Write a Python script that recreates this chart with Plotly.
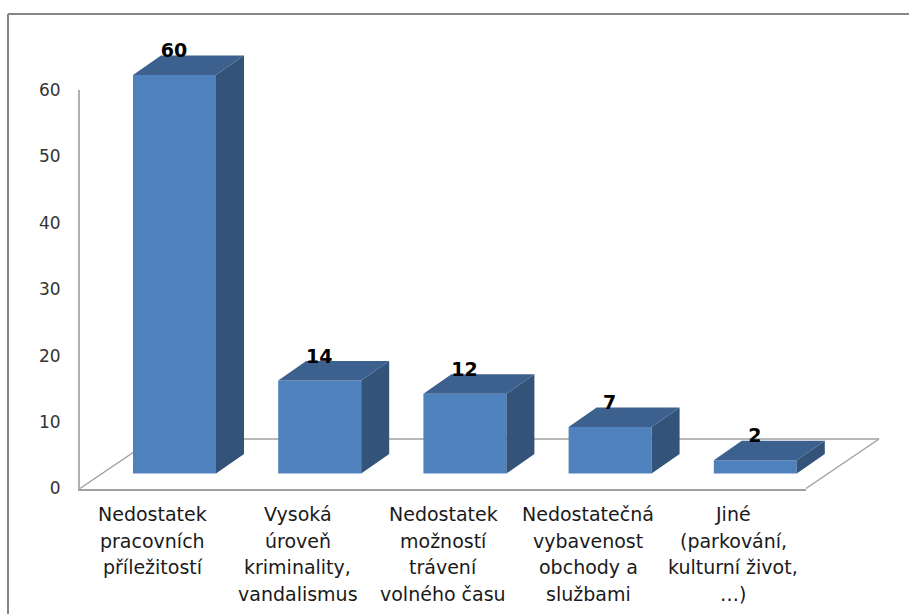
"""3D style column chart: reasons for moving away (Czech survey)"""

import plotly.graph_objects as go

WIDTH = 909
HEIGHT = 614

# data
category_lines = [
    ["Nedostatek", "pracovních", "příležitostí"],
    ["Vysoká", "úroveň", "kriminality,", "vandalismus"],
    ["Nedostatek", "možností", "trávení", "volného času"],
    ["Nedostatečná", "vybavenost", "obchody a", "službami"],
    ["Jiné", "(parkování,", "kulturní život,", "…)"],
]
values = [60, 14, 12, 7, 2]
y_ticks = [0, 10, 20, 30, 40, 50, 60]

# colours
FRONT = "#4f81bd"
TOP = "#3c618f"
SIDE = "#335378"
GRID = "#a0a0a0"
FRAME = "#868686"

# axis box in pixels, the bars sit a bit further back on the floor
LEFT, RIGHT = 80, 806
BOTTOM, TOP_Y = 488.5, 90
# bar axes run further up and right so the 3D faces are not clipped
BAR_RIGHT, BAR_TOP = 900, 30
UNIT_X = (RIGHT - LEFT) / len(values)
UNIT_Y = (BOTTOM - TOP_Y) / 60
SHIFT_X = 21.9 / UNIT_X
SHIFT_Y = 15 / UNIT_Y
BAR_WIDTH = 83 / UNIT_X
DEPTH_X = 28 / UNIT_X
DEPTH_Y = 19.5 / UNIT_Y
LABEL_GAP = 22.5 / UNIT_Y


def px(x):
    return x / WIDTH


def py(y):
    return 1 - y / HEIGHT


positions = list(range(len(values)))

side_x, side_y, top_x, top_y = [], [], [], []
for pos, val in zip(positions, values):
    x0 = pos - BAR_WIDTH / 2
    x1 = pos + BAR_WIDTH / 2
    side_x += [x1, x1 + DEPTH_X, x1 + DEPTH_X, x1, x1, None]
    side_y += [0, DEPTH_Y, val + DEPTH_Y, val, 0, None]
    top_x += [x0, x0 + DEPTH_X, x1 + DEPTH_X, x1, x0, None]
    top_y += [val, val + DEPTH_Y, val + DEPTH_Y, val, val, None]

fig = go.Figure()

fig.add_trace(
    go.Bar(
        x=positions,
        y=values,
        width=BAR_WIDTH,
        marker=dict(color=FRONT, line=dict(width=0)),
        xaxis="x2",
        yaxis="y2",
        hoverinfo="skip",
    )
)

for xs, ys, color in [(side_x, side_y, SIDE), (top_x, top_y, TOP)]:
    fig.add_trace(
        go.Scatter(
            x=xs,
            y=ys,
            mode="lines",
            fill="toself",
            fillcolor=color,
            line=dict(width=0, color=color),
            xaxis="x2",
            yaxis="y2",
            hoverinfo="skip",
        )
    )

# value labels above the bars
fig.add_trace(
    go.Scatter(
        x=[p - 0.5 / UNIT_X for p in positions],
        y=[v + LABEL_GAP for v in values],
        text=[str(v) for v in values],
        mode="text",
        textposition="middle center",
        textfont=dict(family="DejaVu Sans", size=19, color="#000000", weight="bold"),
        xaxis="x2",
        yaxis="y2",
        hoverinfo="skip",
    )
)

# empty trace so the tick axes get their own subplot
fig.add_trace(
    go.Scatter(x=positions, y=values, mode="none", hoverinfo="skip", showlegend=False)
)

# category labels, one annotation per line because of the wide line spacing
annotations = []
for pos, lines in zip(positions, category_lines):
    for i, line in enumerate(lines):
        annotations.append(
            dict(
                x=pos,
                xref="x",
                y=py(514 + i * 26.6),
                yref="paper",
                text=line,
                showarrow=False,
                xanchor="center",
                yanchor="middle",
                font=dict(family="DejaVu Sans", size=19, color="#1a1a1a"),
            )
        )


def line_shape(x0, y0, x1, y1, color=GRID, width=1.5):
    return dict(
        type="line",
        xref="paper",
        yref="paper",
        x0=px(x0),
        y0=py(y0),
        x1=px(x1),
        y1=py(y1),
        line=dict(color=color, width=width),
        layer="below",
    )


shapes = [
    # floor of the 3D box
    line_shape(80, 488.5, 153, 439),
    line_shape(153, 439, 879, 439),
    line_shape(879, 439, 806, 488.5),
    # chart frame, cut off at the right and bottom
    line_shape(8, 14, 8, 614, FRAME, 2),
    line_shape(8, 14, 909, 14, FRAME, 2),
]

x2_start = -0.5 - SHIFT_X
x2_end = x2_start + (BAR_RIGHT - LEFT) / UNIT_X
y2_start = -SHIFT_Y
y2_end = y2_start + (BOTTOM - BAR_TOP) / UNIT_Y

fig.update_layout(
    width=WIDTH,
    height=HEIGHT,
    margin=dict(l=0, r=0, t=0, b=0),
    paper_bgcolor="white",
    plot_bgcolor="rgba(0,0,0,0)",
    showlegend=False,
    shapes=shapes,
    annotations=annotations,
    xaxis=dict(
        domain=[px(LEFT), px(RIGHT)],
        range=[-0.5, len(values) - 0.5],
        automargin=False,
        showgrid=False,
        zeroline=False,
        showticklabels=False,
        ticks="",
        showline=True,
        linecolor=GRID,
        linewidth=2,
    ),
    yaxis=dict(
        domain=[py(BOTTOM), py(TOP_Y)],
        range=[0, 60],
        automargin=False,
        tickvals=y_ticks,
        showgrid=False,
        zeroline=False,
        ticks="",
        showline=True,
        linecolor="#b0b0b0",
        linewidth=2,
        ticklabelstandoff=14,
        tickfont=dict(family="DejaVu Sans", size=17, color="#333333"),
    ),
    xaxis2=dict(
        domain=[px(LEFT), px(BAR_RIGHT)],
        range=[x2_start, x2_end],
        anchor="y2",
        automargin=False,
        visible=False,
    ),
    yaxis2=dict(
        domain=[py(BOTTOM), py(BAR_TOP)],
        range=[y2_start, y2_end],
        anchor="x2",
        automargin=False,
        visible=False,
    ),
)

fig.write_html(
    "out.html",
    config=dict(displayModeBar=False),
    post_script="document.body.style.margin = '0';",
)
